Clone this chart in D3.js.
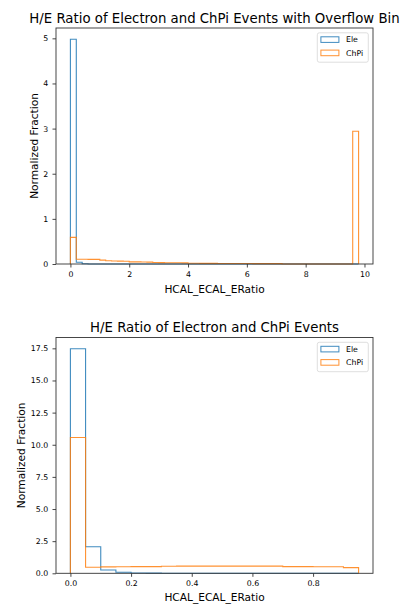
<!DOCTYPE html>
<html>
<head>
<meta charset="utf-8">
<script src="https://cdn.jsdelivr.net/npm/d3@7"></script>
<style>
  html, body { margin: 0; padding: 0; background: #fff; }
  svg { display: block; }
  text { font-family: "DejaVu Sans", sans-serif; fill: #000; }
</style>
</head>
<body>
<svg id="chart" width="406" height="605"></svg>
<script>
// ---------------- data ----------------
const seriesNames = ["Ele", "ChPi"];
const seriesColors = ["#1f77b4", "#ff7f0e"];

// Top panel: bins of width 0.2 from 0 to 9.8 (last bin = overflow)
const topTitle = "H/E Ratio of Electron and ChPi Events with Overflow Bin";
const topBinStart = 0, topBinWidth = 0.2, topBinCount = 49;
const topEle = [4.98, 0.04, 0.005, 0, 0, 0, 0, 0, 0, 0,
                0, 0, 0, 0, 0, 0, 0, 0, 0, 0,
                0, 0, 0, 0, 0, 0, 0, 0, 0, 0,
                0, 0, 0, 0, 0, 0, 0, 0, 0, 0,
                0, 0, 0, 0, 0, 0, 0, 0, 0];
const topChPi = [0.59, 0.104, 0.104, 0.103, 0.102, 0.085, 0.072, 0.068, 0.064, 0.06,
                 0.048, 0.046, 0.044, 0.042, 0.032, 0.03, 0.029, 0.028, 0.027, 0.026,
                 0.016, 0.015, 0.014, 0.014, 0.013, 0.012, 0.012, 0.011, 0.011, 0.010,
                 0.010, 0.009, 0.009, 0.009, 0.008, 0.008, 0, 0, 0, 0,
                 0, 0, 0, 0, 0, 0, 0, 0, 2.94];
const topXTicks = [0, 2, 4, 6, 8, 10];
const topYTicks = [0, 1, 2, 3, 4, 5];

// Bottom panel: bins of width 0.05 from 0 to 0.95
const botTitle = "H/E Ratio of Electron and ChPi Events";
const botBinStart = 0, botBinWidth = 0.05, botBinCount = 19;
const botEle = [17.47, 2.07, 0.26, 0.08, 0.02, 0.01, 0, 0, 0, 0,
                0, 0, 0, 0, 0, 0, 0, 0, 0];
const botChPi = [10.57, 0.47, 0.50, 0.51, 0.52, 0.52, 0.55, 0.56, 0.56, 0.56,
                 0.56, 0.56, 0.56, 0.56, 0.52, 0.52, 0.51, 0.51, 0.44];
const botXTicks = [0.0, 0.2, 0.4, 0.6, 0.8];
const botYTicks = [0, 2.5, 5, 7.5, 10, 12.5, 15, 17.5];

const xLabel = "HCAL_ECAL_ERatio";
const yLabel = "Normalized Fraction";

// ---------------- drawing ----------------
const svg = d3.select("#chart");

function stepPath(x, y, start, width, values) {
  const pts = [];
  const n = values.length;
  pts.push([start, 0]);
  for (let i = 0; i < n; i++) {
    const x0 = start + i * width, x1 = start + (i + 1) * width;
    pts.push([x0, values[i]]);
    pts.push([x1, values[i]]);
  }
  pts.push([start + n * width, 0]);
  return d3.line().x(d => x(d[0])).y(d => y(d[1]))(pts);
}

function panel(opts) {
  const { left, right, top, bottom, title, start, width, count, series, xTicks, yTicks, xFmt, yFmt, yLabelX, xLabelDy } = opts;
  const dataMin = start, dataMax = start + width * count;
  const span = dataMax - dataMin;
  const x = d3.scaleLinear().domain([dataMin - 0.05 * span, dataMax + 0.05 * span]).range([left, right]);
  const yMax = d3.max(series.flat()) * 1.05;
  const y = d3.scaleLinear().domain([0, yMax]).range([bottom, top]);

  const g = svg.append("g");

  // series
  series.forEach((vals, k) => {
    g.append("path")
      .attr("d", stepPath(x, y, start, width, vals))
      .attr("fill", "none")
      .attr("stroke", seriesColors[k])
      .attr("stroke-width", 1.1)
      .attr("stroke-opacity", 0.85)
      .attr("stroke-linejoin", "miter");
  });

  // axes
  const xa = g.append("g").attr("transform", `translate(0,${bottom})`)
    .call(d3.axisBottom(x).tickValues(xTicks).tickFormat(xFmt).tickSize(3.5).tickPadding(3.8).tickSizeOuter(0));
  const ya = g.append("g").attr("transform", `translate(${left},0)`)
    .call(d3.axisLeft(y).tickValues(yTicks).tickFormat(yFmt).tickSize(3.5).tickPadding(4.3).tickSizeOuter(0));
  [xa, ya].forEach(a => {
    a.select(".domain").remove();
    a.selectAll("line").attr("stroke", "#333").attr("stroke-width", 0.9);
    a.selectAll("text").attr("font-size", "7.8px").attr("font-family", "DejaVu Sans, sans-serif").attr("fill", "#222");
  });

  // frame (spines)
  g.append("rect")
    .attr("x", left).attr("y", top)
    .attr("width", right - left).attr("height", bottom - top)
    .attr("fill", "none").attr("stroke", "#333").attr("stroke-width", 0.9);

  // title
  g.append("text")
    .attr("x", (left + right) / 2).attr("y", top - 5.3)
    .attr("text-anchor", "middle").attr("font-size", "13.3px")
    .text(title);

  // x label
  g.append("text")
    .attr("x", (left + right) / 2).attr("y", bottom + xLabelDy)
    .attr("text-anchor", "middle").attr("font-size", "10.6px")
    .text(xLabel);

  // y label
  g.append("text")
    .attr("transform", `translate(${yLabelX},${(top + bottom) / 2}) rotate(-90)`)
    .attr("text-anchor", "middle").attr("font-size", "10.6px")
    .text(yLabel);

  // legend
  const lw = 51, lh = 29.4;
  const lx = right - 4.7 - lw, ly = top + 4.8;
  const lg = g.append("g");
  lg.append("rect")
    .attr("x", lx).attr("y", ly).attr("width", lw).attr("height", lh)
    .attr("rx", 2).attr("fill", "#fff").attr("fill-opacity", 0.8)
    .attr("stroke", "#d6d6d6").attr("stroke-width", 0.8);
  seriesNames.forEach((name, k) => {
    const cy = ly + 6.8 + k * 13.3;
    lg.append("rect")
      .attr("x", lx + 3.6).attr("y", cy - 2.8)
      .attr("width", 18).attr("height", 5.6)
      .attr("fill", "none").attr("stroke", seriesColors[k]).attr("stroke-width", 1).attr("stroke-opacity", 0.85);
    lg.append("text")
      .attr("x", lx + 28.7).attr("y", cy + 2.8)
      .attr("font-size", "7.8px").attr("fill", "#222")
      .text(name);
  });
}

panel({
  left: 56, right: 373, top: 28, bottom: 264,
  title: topTitle, start: topBinStart, width: topBinWidth, count: topBinCount,
  series: [topEle, topChPi], xTicks: topXTicks, yTicks: topYTicks,
  xFmt: d3.format("d"), yFmt: d3.format("d"), yLabelX: 37.5, xLabelDy: 29.3
});

panel({
  left: 56, right: 373, top: 337.5, bottom: 573.3,
  title: botTitle, start: botBinStart, width: botBinWidth, count: botBinCount,
  series: [botEle, botChPi], xTicks: botXTicks, yTicks: botYTicks,
  xFmt: d3.format(".1f"), yFmt: d3.format(".1f"), yLabelX: 25, xLabelDy: 27.5
});
</script>
</body>
</html>
